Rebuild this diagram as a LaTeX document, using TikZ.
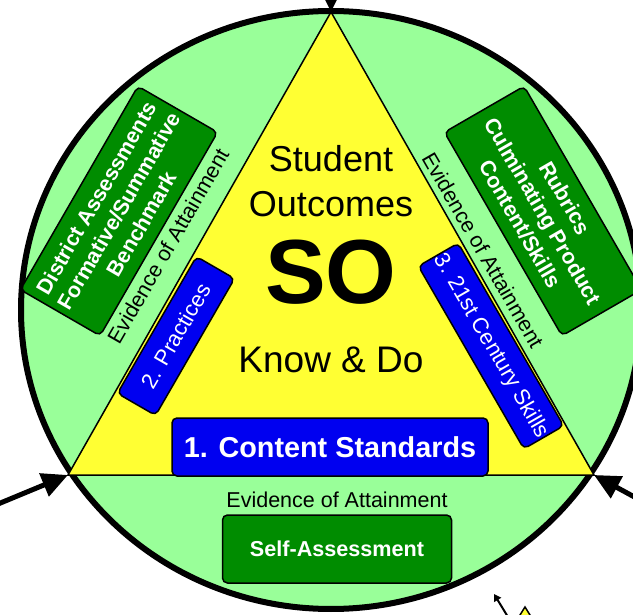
\documentclass[tikz,border=0pt]{standalone}
\usepackage{fontspec}
\setmainfont{Liberation Sans}
\usetikzlibrary{arrows.meta,positioning}
\definecolor{ringgreen}{RGB}{153,255,153}
\definecolor{soyellow}{RGB}{255,255,51}
\definecolor{stdblue}{RGB}{0,0,240}
\definecolor{evgreen}{RGB}{0,140,0}

\begin{document}
\begin{tikzpicture}[x=1pt,y=-1pt,
  every node/.style={font=\fontsize{21}{25}\selectfont},
  ring/.style={draw,line width=6pt,fill=ringgreen},
  tri/.style={draw,line width=1.5pt,fill=soyellow,line join=miter},
  stdbox/.style={rectangle,draw,line width=1.5pt,rounded corners=5pt,fill=stdblue,text=white,inner sep=0pt,align=center},
  evbox/.style={rectangle,draw,line width=1.5pt,rounded corners=5pt,fill=evgreen,text=white,inner sep=0pt,align=center},
  evtext/.style={font=\fontsize{21.5}{25}\selectfont},
  edge/.style={-{Triangle[length=26pt,width=24pt]},line width=5pt}
]
\useasboundingbox (0,0) rectangle (633,615);
\clip (0,0) rectangle (633,615);

% circle and triangle
\draw[ring] (331,310) ellipse [x radius=310, y radius=299];
\coordinate (top) at (331,12);
\coordinate (bl) at (68,475);
\coordinate (br) at (594,475);
\draw[tri] (top) -- (bl) -- (br) -- cycle;

% centre text
\node[font=\fontsize{36}{45}\selectfont,align=center] (so-title) at (331,181) {Student\\Outcomes};
\node[font=\fontsize{91}{92}\selectfont\bfseries] (so) at (331,272) {SO};
\node[font=\fontsize{37}{40}\selectfont] (knowdo) at (331,360) {Know \& Do};

% standards
\node[stdbox,minimum width=316pt,minimum height=58pt,font=\fontsize{28.8}{32}\selectfont\bfseries] (content) at (330,447) {1. Content Standards};
\node[stdbox,minimum width=158pt,minimum height=44pt,rotate=60,font=\fontsize{22}{25}\selectfont] (practices) at (176,336) {2. Practices};
\node[stdbox,minimum width=211pt,minimum height=46pt,rotate=-60,font=\fontsize{22}{25}\selectfont] (skills) at (491,346) {3. 21st Century Skills};

% evidence
\node[evtext,rotate=60] (ev-left) at (168,246) {Evidence of Attainment};
\node[evtext,rotate=-60] (ev-right) at (483,250) {Evidence of Attainment};
\node[evtext] (ev-bottom) at (337,500) {Evidence of Attainment};
\node[evbox,minimum width=235pt,minimum height=92pt,rotate=60,font=\fontsize{21.5}{26}\selectfont\bfseries] (district) at (119,211) {District Assessments\\Formative/Summative\\Benchmark};
\node[evbox,minimum width=235pt,minimum height=92pt,rotate=-60,font=\fontsize{21.5}{26}\selectfont\bfseries] (rubrics) at (543,211) {Rubrics\\Culminating Product\\Content/Skills};
\node[evbox,minimum width=229pt,minimum height=68pt,font=\fontsize{21.6}{25}\selectfont\bfseries] (self) at (337,549) {Self-Assessment};

% incoming arrows
\coordinate (in-top) at (331,-40);
\coordinate (in-left) at (-2,504);
\coordinate (in-right) at (640,500);
\draw[edge] (in-top) -- (top);
\draw[edge] (in-left) -- (bl);
\draw[edge] (in-right) -- (br);

% next diagram (cut off)
\coordinate (next-tip) at (525,607);
\draw[tri] (next-tip) -- ++(-25,40) -- ++(50,0) -- cycle;
\coordinate (next-from) at (508,617);
\coordinate (next-to) at (494,594);
\draw[-{Triangle[length=7pt,width=8pt]},line width=2pt] (next-from) -- (next-to);
\end{tikzpicture}
\end{document}
